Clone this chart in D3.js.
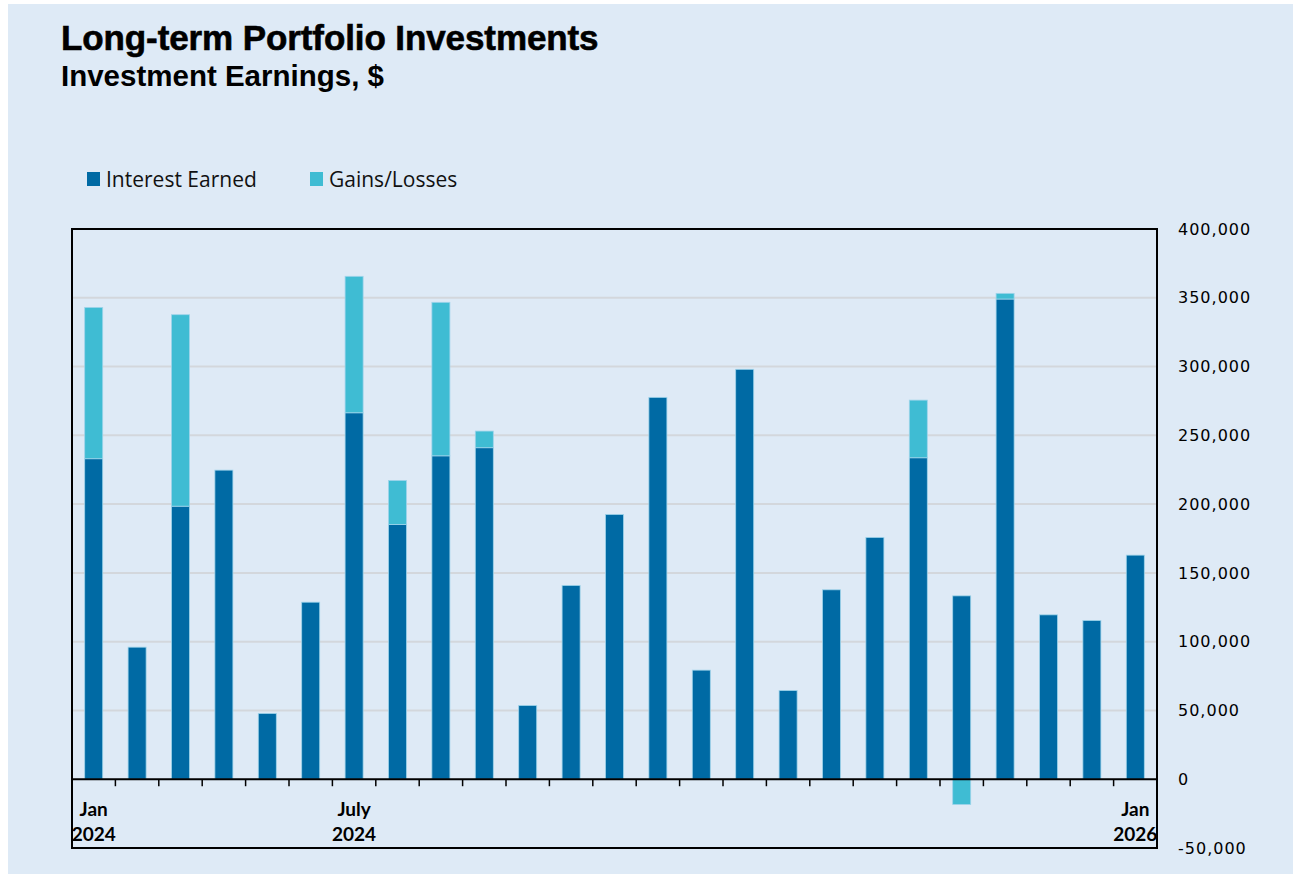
<!DOCTYPE html>
<html>
<head>
<meta charset="utf-8">
<script src="https://cdn.jsdelivr.net/npm/d3@7"></script>
<style>
  body { margin: 0; background: #ffffff; }
  svg { display: block; }
</style>
</head>
<body>
<div id="chart"></div>
<script>
/* CONSTANTS AND GLOBALS */
const width = 1293,
  height = 874,
  margin = { top: 229, bottom: 26, left: 72, right: 136 };

// one entry per month, Jan 2024 .. Jan 2026
const months = [
  "2024-01", "2024-02", "2024-03", "2024-04", "2024-05", "2024-06",
  "2024-07", "2024-08", "2024-09", "2024-10", "2024-11", "2024-12",
  "2025-01", "2025-02", "2025-03", "2025-04", "2025-05", "2025-06",
  "2025-07", "2025-08", "2025-09", "2025-10", "2025-11", "2025-12",
  "2026-01"
];
const interestEarned = [
  233000, 96000, 198500, 224700, 47800, 128700,
  266400, 185200, 235100, 241000, 53600, 140900,
  192500, 277600, 79300, 298000, 64500, 137700,
  175800, 233700, 133300, 349100, 119500, 115400,
  162900
];
const gainsLosses = [
  110000, 0, 139200, 0, 0, 0,
  99200, 32000, 111600, 12100, 0, 0,
  0, 0, 0, 0, 0, 0,
  0, 41900, -18400, 4100, 0, 0,
  0
];
const seriesNames = ["Interest Earned", "Gains/Losses"];
const seriesColors = ["#006aa4", "#3fbcd3"];
const yTicks = [-50000, 0, 50000, 100000, 150000, 200000, 250000, 300000, 350000, 400000];
// month index -> two-line label
const xLabels = [
  { i: 0, lines: ["Jan", "2024"] },
  { i: 6, lines: ["July", "2024"] },
  { i: 24, lines: ["Jan", "2026"] }
];

const rows = months.map((m, i) => ({
  month: m,
  "Interest Earned": interestEarned[i],
  "Gains/Losses": gainsLosses[i]
}));

const svg = d3.select("#chart")
  .append("svg")
  .attr("width", width)
  .attr("height", height);

// panel background
svg.append("rect")
  .attr("x", 8).attr("y", 4)
  .attr("width", width - 8).attr("height", height - 4)
  .attr("fill", "#deeaf6");

// titles
svg.append("text")
  .attr("x", 61).attr("y", 50)
  .attr("font-family", "'Liberation Sans', Arial, sans-serif")
  .attr("font-weight", "bold")
  .attr("font-size", 35)
  .attr("letter-spacing", -0.1)
  .attr("stroke", "#000")
  .attr("stroke-width", 0.6)
  .attr("fill", "#000")
  .text("Long-term Portfolio Investments");

svg.append("text")
  .attr("x", 61).attr("y", 86)
  .attr("font-family", "'Liberation Sans', Arial, sans-serif")
  .attr("font-weight", "bold")
  .attr("font-size", 29.5)
  .attr("fill", "#000")
  .text("Investment Earnings, $");

/* SCALES */
const xScale = d3.scaleBand()
  .domain(months)
  .range([margin.left, width - margin.right])
  .paddingInner(0.585)
  .paddingOuter(0.2925);

const yScale = d3.scaleLinear()
  .domain([-50000, 400000])
  .range([height - margin.bottom, margin.top]);

const stack = d3.stack()
  .keys(seriesNames)
  .offset(d3.stackOffsetDiverging);
const stacked = stack(rows);

// gridlines
svg.append("g")
  .attr("class", "grid")
  .selectAll("line")
  .data(yTicks.filter(d => d > 0 && d < 400000))
  .join("line")
  .attr("x1", margin.left)
  .attr("x2", width - margin.right)
  .attr("y1", d => yScale(d))
  .attr("y2", d => yScale(d))
  .attr("stroke", "#d3d7dc")
  .attr("stroke-width", 2);

// bars
svg.append("g")
  .selectAll("g")
  .data(stacked)
  .join("g")
  .attr("fill", (d, i) => seriesColors[i])
  .selectAll("rect")
  .data(d => d.filter(p => p[1] !== p[0]))
  .join("rect")
  .attr("x", d => xScale(d.data.month))
  .attr("width", xScale.bandwidth())
  .attr("y", d => yScale(Math.max(d[0], d[1])))
  .attr("height", d => Math.abs(yScale(d[0]) - yScale(d[1])))
  .attr("stroke", "#9fd4ea")
  .attr("stroke-width", 0.8);

// zero line
svg.append("line")
  .attr("x1", margin.left).attr("x2", width - margin.right)
  .attr("y1", yScale(0)).attr("y2", yScale(0))
  .attr("stroke", "#000").attr("stroke-width", 2);

// month ticks between bars
svg.append("g")
  .selectAll("line")
  .data(months.slice(1))
  .join("line")
  .attr("x1", d => xScale(d) - xScale.step() * xScale.paddingInner() / 2)
  .attr("x2", d => xScale(d) - xScale.step() * xScale.paddingInner() / 2)
  .attr("y1", yScale(0))
  .attr("y2", yScale(0) + 7)
  .attr("stroke", "#000").attr("stroke-width", 1.5);

// x labels
const xLab = svg.append("g")
  .selectAll("text")
  .data(xLabels)
  .join("text")
  .attr("x", d => xScale(months[d.i]) + xScale.bandwidth() / 2)
  .attr("y", yScale(0) + 37)
  .attr("text-anchor", "middle")
  .attr("font-family", "Lato, 'Open Sans', sans-serif")
  .attr("font-weight", "bold")
  .attr("font-size", 19)
  .attr("fill", "#000");
xLab.selectAll("tspan")
  .data(d => d.lines.map(l => ({ l, x: xScale(months[d.i]) + xScale.bandwidth() / 2 })))
  .join("tspan")
  .attr("x", d => d.x)
  .attr("dy", (d, i) => i === 0 ? 0 : 25)
  .text(d => d.l);

// frame
svg.append("rect")
  .attr("x", margin.left).attr("y", margin.top)
  .attr("width", width - margin.right - margin.left)
  .attr("height", height - margin.bottom - margin.top)
  .attr("fill", "none")
  .attr("stroke", "#000").attr("stroke-width", 2);

/* Y AXIS (right) */
const yAxis = d3.axisRight(yScale)
  .tickValues(yTicks)
  .tickSize(0)
  .tickPadding(21)
  .tickFormat(d => d3.format(",")(d).replace("−", "-"));

svg.append("g")
  .attr("class", "y-axis")
  .attr("transform", `translate(${width - margin.right},0)`)
  .call(yAxis)
  .call(g => g.select(".domain").remove())
  .call(g => g.selectAll("text")
    .attr("font-family", "'DejaVu Sans', Verdana, sans-serif")
    .attr("font-size", 16)
    .attr("letter-spacing", 1)
    .attr("fill", "#000"));

/* LEGEND */
const legend = svg.append("g")
  .selectAll("g")
  .data(seriesNames)
  .join("g")
  .attr("transform", (d, i) => `translate(${[87, 310][i]},172)`);

legend.append("rect")
  .attr("width", 13).attr("height", 14)
  .attr("fill", (d, i) => seriesColors[i]);

legend.append("text")
  .attr("x", 19).attr("y", 14.5)
  .attr("font-family", "'Open Sans', sans-serif")
  .attr("font-size", 21)
  .attr("fill", "#111")
  .text(d => d);
</script>
</body>
</html>
